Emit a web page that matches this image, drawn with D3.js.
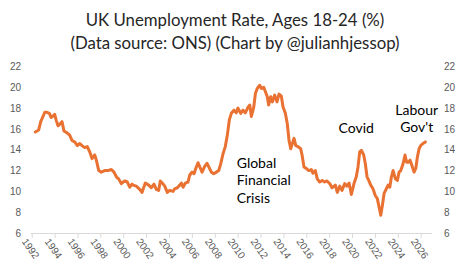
<!DOCTYPE html>
<html>
<head>
<meta charset="utf-8">
<script src="https://cdn.jsdelivr.net/npm/d3@7"></script>
<style>
  body { margin: 0; background: #fff; }
</style>
</head>
<body>
<div id="chart"></div>
<script>
// series (monthly-ish, fractional years)
const years = [
    1992.31, 1992.61, 1992.79, 1992.99, 1993.14, 1993.34, 1993.54, 1993.71, 1994.01, 1994.15,
    1994.30, 1994.50, 1994.65, 1994.82, 1995.11, 1995.32, 1995.52, 1995.76, 1995.99, 1996.20,
    1996.40, 1996.63, 1996.86, 1997.07, 1997.27, 1997.51, 1997.65, 1997.86, 1998.08, 1998.38,
    1998.67, 1998.96, 1999.19, 1999.40, 1999.60, 1999.83, 2000.13, 2000.36, 2000.57, 2000.77,
    2000.86, 2001.14, 2001.44, 2001.64, 2001.93, 2002.23, 2002.45, 2002.69, 2002.89, 2003.10,
    2003.24, 2003.42, 2003.63, 2003.85, 2004.06, 2004.35, 2004.50, 2004.73, 2004.94, 2005.08,
    2005.23, 2005.43, 2005.66, 2005.81, 2006.01, 2006.19, 2006.34, 2006.54, 2006.69, 2006.89,
    2007.12, 2007.32, 2007.50, 2007.70, 2007.91, 2008.14, 2008.35, 2008.52, 2008.72, 2008.92,
    2009.11, 2009.28, 2009.45, 2009.68, 2009.88, 2010.03, 2010.27, 2010.47, 2010.67, 2010.91,
    2011.06, 2011.20, 2011.41, 2011.55, 2011.72, 2011.93, 2012.07, 2012.28, 2012.42, 2012.59,
    2012.71, 2012.89, 2013.03, 2013.24, 2013.44, 2013.62, 2013.82, 2013.97, 2014.17, 2014.34,
    2014.49, 2014.64, 2014.78, 2014.93, 2015.08, 2015.28, 2015.51, 2015.63, 2015.80, 2016.00,
    2016.21, 2016.44, 2016.58, 2016.79, 2016.96, 2017.17, 2017.40, 2017.61, 2017.81, 2018.05,
    2018.25, 2018.54, 2018.71, 2018.92, 2019.12, 2019.36, 2019.56, 2019.74, 2019.94, 2020.17,
    2020.37, 2020.52, 2020.67, 2020.81, 2021.02, 2021.16, 2021.31, 2021.46, 2021.63, 2021.83,
    2022.03, 2022.21, 2022.36, 2022.51, 2022.65, 2022.80, 2023.00, 2023.15, 2023.30, 2023.44,
    2023.59, 2023.79, 2023.96, 2024.11, 2024.26, 2024.46, 2024.63, 2024.77, 2024.92, 2025.07,
    2025.18, 2025.42, 2025.57, 2025.71, 2025.86, 2026.00, 2026.20, 2026.41
];

const rates = [
    15.7, 15.9, 16.7, 17.2, 17.6, 17.6, 17.5, 17.1, 17.4, 16.8,
    16.3, 16.5, 16.7, 15.8, 15.6, 15.4, 14.9, 14.75, 14.4, 14.6,
    14.4, 14.2, 14.3, 13.8, 13.15, 13.5, 13.0, 12.0, 11.85, 12.0,
    12.0, 12.1, 11.85, 11.4, 11.2, 10.75, 11.0, 10.9, 10.4, 10.7,
    10.6, 10.5, 10.2, 9.9, 10.8, 10.6, 10.35, 10.7, 10.2, 10.1,
    11.0, 10.8, 10.5, 9.9, 10.1, 10.0, 10.25, 10.35, 10.6, 10.8,
    10.4, 10.8, 10.9, 11.55, 11.85, 11.7, 12.2, 12.75, 12.35, 11.85,
    12.4, 12.7, 12.3, 11.85, 11.7, 11.85, 12.0, 12.65, 13.6, 14.3,
    15.5, 16.9, 17.5, 17.8, 17.55, 18.0, 17.5, 17.8, 17.55, 18.1,
    18.3, 17.2, 18.1, 19.4, 19.9, 20.2, 19.9, 20.0, 19.6, 19.1,
    18.3, 19.1, 18.6, 19.25, 18.6, 19.35, 19.15, 18.1, 17.5, 16.5,
    14.9, 14.1, 14.6, 15.1, 14.4, 14.3, 14.1, 13.5, 12.35, 12.2,
    12.0, 12.1, 11.75, 12.0, 11.2, 10.9, 11.05, 10.9, 11.0, 10.75,
    10.35, 10.6, 9.9, 10.5, 10.1, 10.75, 10.5, 10.8, 9.7, 10.75,
    11.4, 12.35, 13.8, 13.95, 13.5, 12.65, 11.4, 11.05, 10.6, 10.25,
    9.6, 9.3, 8.5, 7.7, 8.65, 9.8, 10.25, 10.6, 10.4, 11.4,
    12.0, 11.2, 11.05, 11.85, 12.0, 12.65, 13.5, 12.8, 12.8, 13.0,
    12.65, 11.85, 12.2, 13.3, 14.1, 14.4, 14.6, 14.75
];

const yTicks = [6, 8, 10, 12, 14, 16, 18, 20, 22];
const xTicks = d3.range(1992, 2027, 2);

const titleLines = [
    "UK Unemployment Rate, Ages 18-24 (%)",
    "(Data source: ONS) (Chart by @julianhjessop)"
];

// annotation text, placed at the first line's baseline
const notes = [
    { lines: ["Global", "Financial", "Crisis"], year: 2009.92, value: 12.27, anchor: "start" },
    { lines: ["Covid"], year: 2020.37, value: 15.58, anchor: "middle" },
    { lines: ["Labour", "Gov't"], year: 2025.65, value: 17.34, anchor: "middle" }
];

const width = 468;
const height = 272;
const margin = { top: 66.5, right: 36, bottom: 39, left: 31.7 };

const svg = d3.select("#chart")
    .append("svg")
    .attr("width", width)
    .attr("height", height);

// scales
const xScale = d3.scaleLinear()
    .domain([1992, 2026])
    .range([margin.left, 420.7]);

const yScale = d3.scaleLinear()
    .domain([6, 22])
    .range([height - margin.bottom, margin.top]);

const tickFont = "'Liberation Sans', Arial, sans-serif";
const textFont = "Lato, 'Noto Sans', sans-serif";

//title
svg.append("g").selectAll("text")
    .data(titleLines)
    .enter()
    .append("text")
    .attr("x", width / 2 + 1)
    .attr("y", function(d, i) { return 26 + i * 23; })
    .attr("text-anchor", "middle")
    .style("font-family", textFont)
    .style("font-size", "16.8px")
    .style("fill", "#262626")
    .text(function(d) { return d; });

// x axis line + ticks
const xAxis = svg.append("g")
    .attr("transform", "translate(0," + yScale(6) + ")")
    .call(d3.axisBottom(xScale)
        .tickValues(xTicks)
        .tickFormat(d3.format("d"))
        .tickSizeOuter(0)
        .tickSize(5));

xAxis.select(".domain")
    .attr("d", "M" + (margin.left - 1) + ",0.5H432")
    .attr("stroke", "#d9d9d9");

xAxis.selectAll(".tick line")
    .attr("stroke", "#d9d9d9");

xAxis.selectAll(".tick text")
    .attr("transform", "translate(-3,3) rotate(55)")
    .attr("dy", "0.35em")
    .attr("y", 6)
    .style("text-anchor", "start")
    .style("font-family", tickFont)
    .style("font-size", "10px")
    .style("fill", "#595959");

// left axis
const yLeft = svg.append("g")
    .attr("transform", "translate(21,0)")
    .call(d3.axisLeft(yScale).tickValues(yTicks).tickSize(0));

// right axis
const yRight = svg.append("g")
    .attr("transform", "translate(444,0)")
    .call(d3.axisRight(yScale).tickValues(yTicks).tickSize(0));

[yLeft, yRight].forEach(function(g) {
    g.select(".domain").remove();
    g.selectAll("text")
        .attr("x", 0)
        .style("font-family", tickFont)
        .style("font-size", "10px")
        .style("fill", "#595959");
});

// the line
const points = years.map(function(y, i) { return { year: y, rate: rates[i] }; });

const line = d3.line()
    .x(function(d) { return xScale(d.year); })
    .y(function(d) { return yScale(d.rate); });

svg.append("path")
    .datum(points)
    .attr("fill", "none")
    .attr("stroke", "#E97132")
    .attr("stroke-width", 3)
    .attr("stroke-linejoin", "round")
    .attr("stroke-linecap", "round")
    .attr("d", line);

// annotations
notes.forEach(function(n) {
    const t = svg.append("text")
        .attr("text-anchor", n.anchor)
        .style("font-family", textFont)
        .style("font-size", "14px")
        .style("fill", "#000");
    n.lines.forEach(function(l, i) {
        t.append("tspan")
            .attr("x", xScale(n.year))
            .attr("y", yScale(n.value) + i * 17.5)
            .text(l);
    });
});
</script>
</body>
</html>
